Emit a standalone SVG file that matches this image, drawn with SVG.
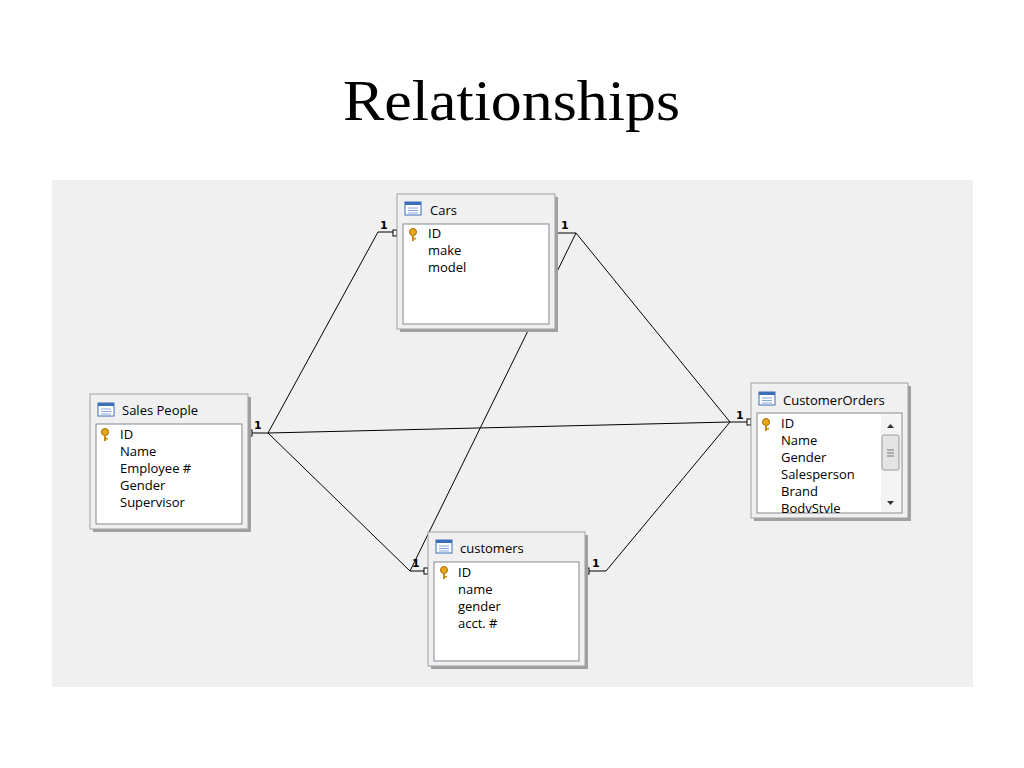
<svg xmlns="http://www.w3.org/2000/svg" width="1024" height="768" viewBox="0 0 1024 768">
<style>
.frame{fill:#f0f0f0;stroke:#a0a0a0;stroke-width:1}
.shadow{fill:#a0a0a0}
.inner{fill:#fff;stroke:#828790;stroke-width:1}
.t{font-family:"Open Sans","DejaVu Sans",sans-serif;font-size:13px;fill:#000}
.one{font-family:"DejaVu Sans",sans-serif;font-size:11px;font-weight:bold;fill:#000}
.ln{stroke:#000;stroke-width:1;fill:none}
.ic{fill:#fff;stroke:#3a6fb8;stroke-width:1}
</style>
<defs>
<g id="icon"><rect class="ic" x="0" y="0" width="16" height="13"/><rect x="0" y="0" width="16" height="3" fill="#3a6fb8"/><path d="M3 6h10M3 8.5h10M3 11h10" stroke="#8aa6d4" stroke-width="1"/></g>
<g id="key"><circle cx="4" cy="4" r="3.5" fill="#e8a81c" stroke="#a36c00" stroke-width="1"/><rect x="3" y="7" width="2" height="6" fill="#c88a10"/><rect x="5" y="10" width="2" height="1.5" fill="#c88a10"/></g>
<clipPath id="coClip"><rect x="757" y="413" width="123" height="100"/></clipPath>
</defs>
<rect width="1024" height="768" fill="#fff"/>
<text x="343" y="120" textLength="337" lengthAdjust="spacingAndGlyphs" font-family="Liberation Serif,serif" font-size="58" fill="#000">Relationships</text>
<rect x="52" y="180" width="921" height="507" fill="#f0f0f0"/>
<g id="connectors">
<path class="ln" d="M248 433H268M268 433L378 232H393"/>
<path class="ln" d="M268 433L410 571H426"/>
<path class="ln" d="M268 433L730 422H751"/>
<path class="ln" d="M556 233H576L730 422"/>
<path class="ln" d="M576 233L410 571"/>
<path class="ln" d="M587 571H606L730 422"/>
<g fill="#fff" stroke="#000" stroke-width="1"><rect x="393" y="230" width="4" height="6"/><rect x="248" y="430" width="4" height="6"/><rect x="552" y="230" width="4" height="6"/><rect x="747" y="419" width="4" height="6"/><rect x="424" y="568" width="4" height="6"/><rect x="585" y="568" width="4" height="6"/></g>
<text class="one" x="380" y="229">1</text><text class="one" x="254" y="429">1</text><text class="one" x="561" y="229">1</text><text class="one" x="736" y="419">1</text><text class="one" x="412" y="567">1</text><text class="one" x="592" y="567">1</text>
</g>
<g id="cars">
<rect class="shadow" x="400" y="197" width="158" height="135"/>
<rect class="frame" x="397" y="194" width="158" height="135"/>
<use href="#icon" x="405" y="202"/><text class="t" x="430" y="215">Cars</text>
<rect class="inner" x="403" y="224" width="146" height="100"/>
<use href="#key" x="409" y="228"/>
<text class="t" x="428" y="238">ID</text><text class="t" x="428" y="255">make</text><text class="t" x="428" y="272">model</text>
</g>
<g id="sales">
<rect class="shadow" x="93" y="397" width="158" height="135"/>
<rect class="frame" x="90" y="394" width="158" height="135"/>
<use href="#icon" x="98" y="403"/><text class="t" x="122" y="415">Sales People</text>
<rect class="inner" x="96" y="424" width="146" height="100"/>
<use href="#key" x="101" y="428"/>
<text class="t" x="120" y="439">ID</text><text class="t" x="120" y="456">Name</text><text class="t" x="120" y="473">Employee #</text><text class="t" x="120" y="490">Gender</text><text class="t" x="120" y="507">Supervisor</text>
</g>
<g id="customerorders">
<rect class="shadow" x="754" y="386" width="157" height="135"/>
<rect class="frame" x="751" y="383" width="157" height="135"/>
<use href="#icon" x="759" y="392"/><text class="t" x="783" y="405">CustomerOrders</text>
<rect class="inner" x="757" y="413" width="145" height="100"/>
<use href="#key" x="762" y="418"/>
<g clip-path="url(#coClip)"><text class="t" x="781" y="428">ID</text><text class="t" x="781" y="445">Name</text><text class="t" x="781" y="462">Gender</text><text class="t" x="781" y="479">Salesperson</text><text class="t" x="781" y="496">Brand</text><text class="t" x="781" y="513">BodyStyle</text></g>
<rect x="881" y="414" width="20" height="98" fill="#f4f4f4"/>
<rect x="882" y="435" width="17" height="35" rx="2" fill="#e4e4e4" stroke="#9a9a9a"/>
<path d="M887 450h7M887 453h7M887 456h7" stroke="#777"/>
<path d="M887 428l3.5-4 3.5 4z M887 501l3.5 4 3.5-4z" fill="#333"/>
</g>
<g id="customers">
<rect class="shadow" x="431" y="535" width="157" height="134"/>
<rect class="frame" x="428" y="532" width="157" height="134"/>
<use href="#icon" x="436" y="540"/><text class="t" x="460" y="553">customers</text>
<rect class="inner" x="434" y="562" width="145" height="99"/>
<use href="#key" x="440" y="566"/>
<text class="t" x="458" y="577">ID</text><text class="t" x="458" y="594">name</text><text class="t" x="458" y="611">gender</text><text class="t" x="458" y="628">acct. #</text>
</g>
</svg>
